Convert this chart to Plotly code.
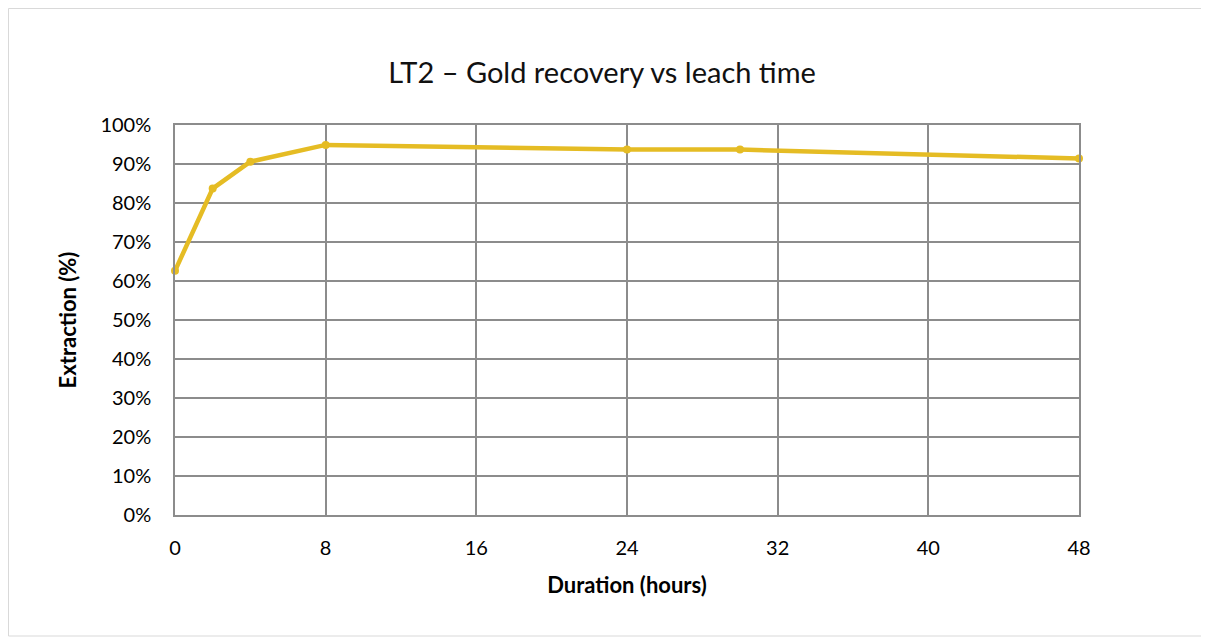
import plotly.graph_objects as go

hours = [0, 2, 4, 8, 24, 30, 48]
extraction = [0.626, 0.837, 0.906, 0.949, 0.937, 0.937, 0.914]
x_ticks = [0, 8, 16, 24, 32, 40, 48]
y_ticks = [0, 0.1, 0.2, 0.3, 0.4, 0.5, 0.6, 0.7, 0.8, 0.9, 1.0]

title_text = "LT2 – Gold recovery vs leach time"
x_title = "Duration (hours)"
y_title = "Extraction (%)"

FONT = "Lato, Carlito, Calibri, sans-serif"
GOLD = "#E5BC24"
GRID = "#8C8C8C"

fig = go.Figure()
fig.add_trace(go.Scatter(
    x=hours, y=extraction, mode="lines+markers",
    line=dict(color=GOLD, width=4.5),
    marker=dict(color=GOLD, size=8),
    showlegend=False, cliponaxis=False,
))

W, H = 1209, 637
L, R, T, B = 167, 138, 117, 130
pw, ph = W - L - R, H - T - B

fig.update_layout(
    width=W, height=H,
    margin=dict(l=L, r=R, t=T, b=B),
    paper_bgcolor="white", plot_bgcolor="white",
    font=dict(family=FONT, color="#000000"),
    title=dict(text=title_text, x=(594 - L) / pw, xref="paper", xanchor="center",
               y=1 - 65 / H, yanchor="middle", font=dict(size=29, family=FONT, color="#111111")),
    xaxis=dict(
        range=[0, 48], tickvals=x_ticks, ticktext=[str(v) for v in x_ticks],
        showgrid=True, gridcolor=GRID, gridwidth=1.5,
        showline=True, linecolor=GRID, linewidth=1.5, mirror=True,
        zeroline=False, ticks="", ticklabelstandoff=14,
        tickfont=dict(size=20, family=FONT),
        title=dict(text="<b>" + x_title + "</b>", font=dict(size=22, family=FONT), standoff=20),
    ),
    yaxis=dict(
        range=[0, 1.0], tickvals=y_ticks, tickformat=".0%",
        showgrid=True, gridcolor=GRID, gridwidth=1.5,
        showline=True, linecolor=GRID, linewidth=1.5, mirror=True,
        zeroline=False, ticks="", ticklabelstandoff=18,
        tickfont=dict(size=20, family=FONT),
        title=dict(text="<b>" + y_title + "</b>", font=dict(size=22, family=FONT), standoff=18),
    ),
)

# outer chart border
fig.add_shape(type="rect", xref="paper", yref="paper",
              x0=(0.5 - L) / pw, x1=(1200 - L) / pw,
              y0=(H - B - 628) / ph, y1=(H - B - 0.5) / ph,
              line=dict(color="#D9D9D9", width=1), layer="below")

fig.write_html("out.html")
